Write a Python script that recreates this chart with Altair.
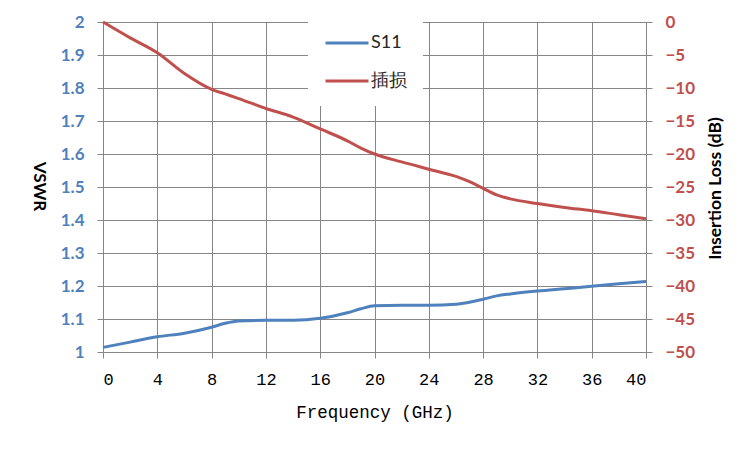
import altair as alt
import pandas as pd

freq = [0, 2, 4, 6, 8, 9, 10, 12, 14, 16, 18, 19, 20, 22, 24, 26, 27, 28, 29, 30, 32, 34, 36, 38, 40]
vswr = [1.014, 1.030, 1.046, 1.057, 1.075, 1.087, 1.094, 1.096, 1.096, 1.102, 1.119, 1.131, 1.140,
        1.142, 1.142, 1.145, 1.151, 1.160, 1.170, 1.176, 1.185, 1.192, 1.199, 1.207, 1.214]
il = [0.0, -2.4, -4.65, -7.8, -10.2, -10.9, -11.6, -13.1, -14.4, -16.2, -18.0, -19.1, -20.0,
      -21.2, -22.3, -23.4, -24.2, -25.2, -26.2, -26.8, -27.5, -28.1, -28.6, -29.2, -29.8]
series_names = ["S11", "插损"]
series_colors = ["#4F81BD", "#C0504D"]
x_ticks = list(range(0, 41, 4))
vswr_ticks = [round(1 + 0.1 * i, 1) for i in range(11)]
il_ticks = list(range(-50, 1, 5))

df1 = pd.DataFrame({"freq": freq, "val": vswr, "series": series_names[0]})
df2 = pd.DataFrame({"freq": freq, "val": il, "series": series_names[1]})

GRID = "#868686"

x_enc = alt.X(
    "freq:Q",
    scale=alt.Scale(domain=[0, 40], nice=False),
    axis=alt.Axis(
        values=x_ticks, title="Frequency (GHz)", grid=True, gridColor=GRID, gridWidth=1,
        domain=False, tickColor=GRID, tickSize=6, labelPadding=13,
        labelFont="Liberation Mono", labelFontSize=17, labelColor="#000000",
        titleFont="Liberation Mono", titleFontSize=17.5, titleFontWeight="normal",
        titleColor="#000000", titleY=60, titleBaseline="middle",
    ),
)

color_enc = alt.Color(
    "series:N",
    scale=alt.Scale(domain=series_names, range=series_colors),
    legend=alt.Legend(
        title=None, orient="none", legendX=205, legendY=-18, fillColor="white",
        padding=16, symbolType="stroke", symbolSize=1849, symbolStrokeWidth=3,
        labelFont="Lato", labelFontSize=18, labelColor="#262626", labelOffset=1,
        rowPadding=6,
    ),
)

left = alt.Chart(df1).mark_line(strokeWidth=3, interpolate="monotone").encode(
    x=x_enc,
    y=alt.Y(
        "val:Q",
        scale=alt.Scale(domain=[1, 2], nice=False),
        axis=alt.Axis(
            values=vswr_ticks, title="VSWR", orient="left", grid=True, gridColor=GRID,
            gridWidth=1, domain=False, tickColor=GRID, tickSize=6, labelPadding=13,
            labelFont="Lato", labelFontSize=17, labelFontWeight="bold", labelColor="#4F81BD",
            labelExpr="format(datum.value, '.1~f')",
            titleFont="Lato", titleFontSize=17, titleFontWeight="bold", titleColor="#000000",
            titleAngle=90, titleX=-65, titleY=164, titleAlign="center", titleBaseline="middle",
        ),
    ),
    color=color_enc,
)

right = alt.Chart(df2).mark_line(strokeWidth=3, interpolate="monotone").encode(
    x=x_enc,
    y=alt.Y(
        "val:Q",
        scale=alt.Scale(domain=[-50, 0], nice=False),
        axis=alt.Axis(
            values=il_ticks, title="Insertion Loss (dB)", orient="right", grid=False,
            domain=False, tickColor=GRID, tickSize=6, labelPadding=13,
            labelFont="Lato", labelFontSize=17, labelFontWeight="bold", labelColor="#C0504D",
            titleFont="Lato", titleFontSize=17.5, titleFontWeight="bold", titleColor="#000000",
            titleAngle=270, titleX=69, titleY=166, titleAlign="center", titleBaseline="middle",
        ),
    ),
    color=color_enc,
)

chart = alt.layer(left, right).resolve_scale(y="independent").properties(
    width=543, height=330,
    autosize=alt.AutoSizeParams(type="none"),
    padding={"left": 95, "top": 14, "right": 96, "bottom": 80},
).configure_view(stroke=None).configure(background="white")

chart.save("out.html", embed_options={"renderer": "svg", "actions": False})
